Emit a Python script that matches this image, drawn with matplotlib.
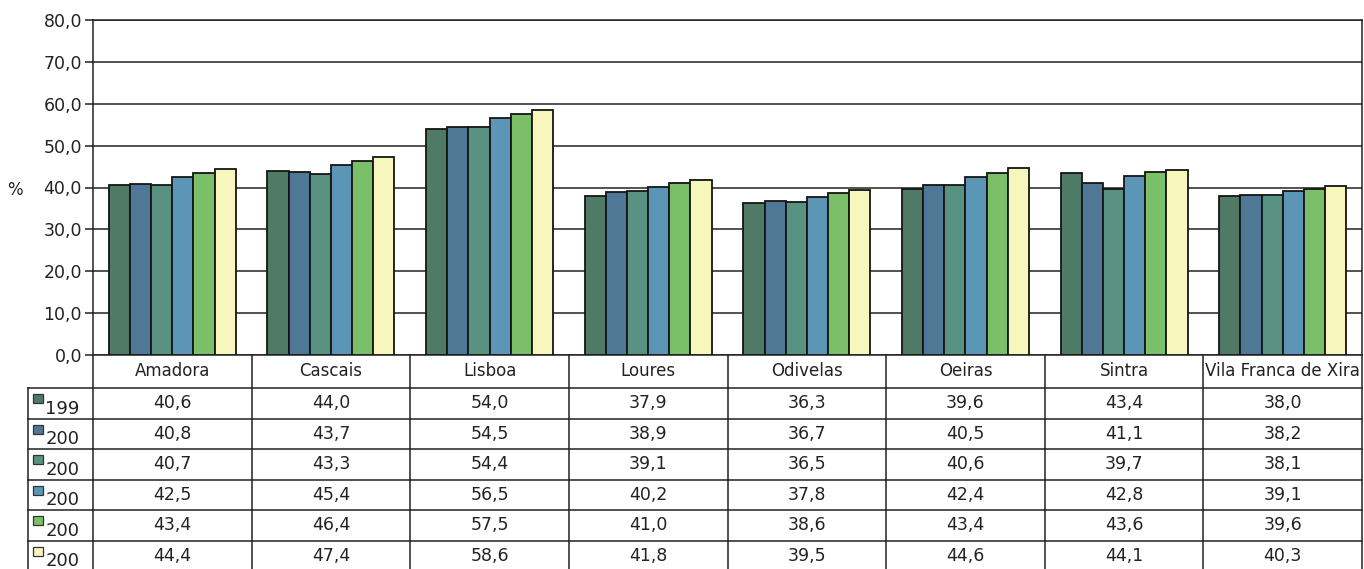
import numpy as np
import matplotlib.pyplot as plt
from matplotlib.patches import Rectangle

categories = ["Amadora", "Cascais", "Lisboa", "Loures", "Odivelas", "Oeiras", "Sintra",
              "Vila Franca de Xira"]
series_labels = ["199", "200", "200", "200", "200", "200"]
s1 = [40.6, 44.0, 54.0, 37.9, 36.3, 39.6, 43.4, 38.0]
s2 = [40.8, 43.7, 54.5, 38.9, 36.7, 40.5, 41.1, 38.2]
s3 = [40.7, 43.3, 54.4, 39.1, 36.5, 40.6, 39.7, 38.1]
s4 = [42.5, 45.4, 56.5, 40.2, 37.8, 42.4, 42.8, 39.1]
s5 = [43.4, 46.4, 57.5, 41.0, 38.6, 43.4, 43.6, 39.6]
s6 = [44.4, 47.4, 58.6, 41.8, 39.5, 44.6, 44.1, 40.3]
series = [s1, s2, s3, s4, s5, s6]
colors = ["#4f7a66", "#4f7897", "#5a9282", "#5b96b6", "#7cbf69", "#f7f7bd"]
yticks = [0, 10, 20, 30, 40, 50, 60, 70, 80]


def fmt(v):
    return f"{v:.1f}".replace(".", ",")


W, H = 1364, 569
fig = plt.figure(figsize=(W / 100, H / 100), dpi=100)
fig.patch.set_facecolor("white")

# chart area
ax = fig.add_axes([93 / W, 1 - 355 / H, (1362 - 93) / W, (355 - 20) / H])
x = np.arange(len(categories))
n = len(series)
bw = 0.8 / n
for i, (vals, c) in enumerate(zip(series, colors)):
    ax.bar(x - 0.4 + bw * (i + 0.5), vals, bw, color=c, edgecolor="#151515",
           linewidth=1.3, zorder=3)
ax.set_xlim(-0.5, len(categories) - 0.5)
ax.set_ylim(0, 80)
ax.set_yticks(yticks)
ax.set_yticklabels([fmt(v) for v in yticks], fontsize=12.5, color="#222222")
ax.set_xticks([])
ax.yaxis.grid(True, color="#222222", linewidth=1.1, zorder=0)
ax.tick_params(axis="y", length=6, width=1.1, color="#222222", pad=2)
for sp in ax.spines.values():
    sp.set_color("#222222")
    sp.set_linewidth(1.1)
fig.text(15 / W, 1 - 190 / H, "%", fontsize=12, ha="center", va="center", color="#222222")

# data table below the chart
tab = fig.add_axes([28 / W, 0, (1362 - 28) / W, 214 / H])
colw = (1362 - 93) / len(categories)
xmin = -0.5 - 65 / colw
xmax = len(categories) - 0.5
rowh = 30.5
h0 = 33 / rowh
ybot = 214 / rowh
tab.set_xlim(xmin, xmax)
tab.set_ylim(ybot, 0)
tab.axis("off")

lc = "#222222"
for i in range(n + 1):
    tab.plot([xmin, xmax], [h0 + i, h0 + i], color=lc, lw=1.1, clip_on=False)
for k in range(len(categories) + 1):
    tab.plot([k - 0.5, k - 0.5], [0, ybot], color=lc, lw=1.1, clip_on=False)
tab.plot([xmin, xmin], [h0, ybot], color=lc, lw=1.1, clip_on=False)

for k, cat in enumerate(categories):
    tab.text(k, h0 / 2, cat, ha="center", va="center", fontsize=12, color="#222222",
             clip_on=False)
for i, (vals, c, lab) in enumerate(zip(series, colors, series_labels)):
    yc = h0 + i
    for k, v in enumerate(vals):
        tab.text(k, yc + 0.5, fmt(v), ha="center", va="center", fontsize=12.5, color="#222222")
    tab.add_patch(Rectangle((xmin + 0.03, yc + 0.2), 10 / colw, 9 / rowh,
                            facecolor=c, edgecolor="#333333", lw=0.9, clip_on=False))
    tab.text(xmin + 0.11, yc + 0.98, lab, ha="left", va="bottom", fontsize=13,
             color="#222222", clip_on=False)

fig.savefig("out.png", dpi=100)
